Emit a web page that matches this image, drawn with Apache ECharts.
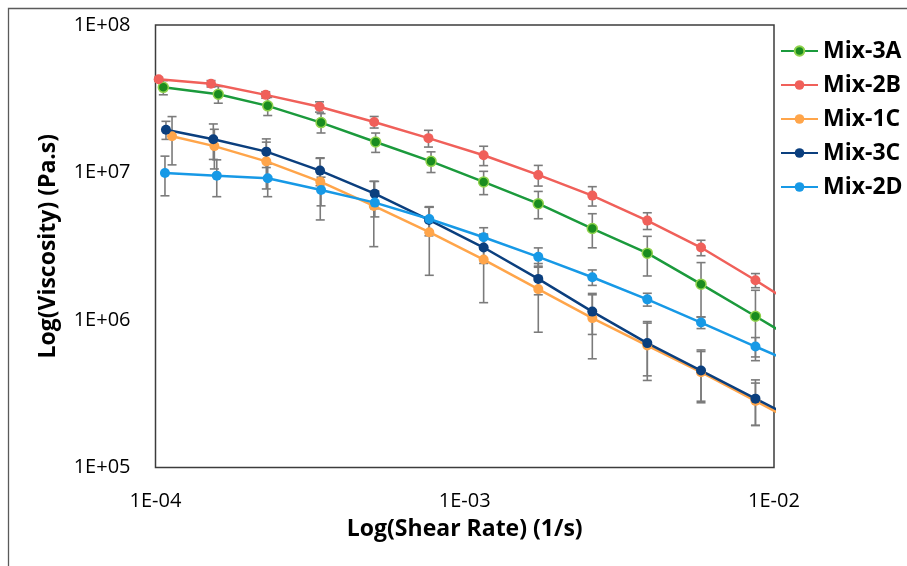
<!DOCTYPE html>
<html>
<head>
<meta charset="utf-8">
<script src="https://cdn.jsdelivr.net/npm/echarts@6/dist/echarts.min.js"></script>
<style>
html,body{margin:0;padding:0;background:#fff;}
#chart{width:907px;height:566px;}
</style>
</head>
<body>
<div id="chart"></div>
<script>
// ---- data ----
const seriesNames = ['Mix-3A', 'Mix-2B', 'Mix-1C', 'Mix-3C', 'Mix-2D'];
const seriesColors = ['#1b9a3c', '#f0605a', '#ffa54a', '#0b3f7e', '#1799e6'];

const x3A = [1.06e-4, 1.596e-4, 2.306e-4, 3.43e-4, 5.15e-4, 7.78e-4, 1.151e-3, 1.729e-3, 2.585e-3, 3.893e-3, 5.808e-3, 8.71e-3, 1.31e-2];
const y3A = [3.78e7, 3.39e7, 2.83e7, 2.18e7, 1.61e7, 1.19e7, 8.63e6, 6.15e6, 4.17e6, 2.84e6, 1.75e6, 1.06e6, 6.37e5];
const e3A = [0.11, 0.13, 0.14, 0.15, 0.15, 0.16, 0.18, 0.21, 0.26, 0.30, 0.40, 0.50];

const x2B = [1.024e-4, 1.512e-4, 2.272e-4, 3.391e-4, 5.095e-4, 7.632e-4, 1.151e-3, 1.729e-3, 2.585e-3, 3.893e-3, 5.808e-3, 8.71e-3, 1.31e-2];
const y2B = [4.29e7, 4.00e7, 3.36e7, 2.79e7, 2.20e7, 1.71e7, 1.31e7, 9.63e6, 6.97e6, 4.72e6, 3.10e6, 1.86e6, 1.08e6];
const e2B = [0.03, 0.05, 0.05, 0.08, 0.09, 0.13, 0.15, 0.16, 0.15, 0.13, 0.12, 0.11];

const x1C = [1.131e-4, 1.55e-4, 2.282e-4, 3.41e-4, 5.08e-4, 7.68e-4, 1.151e-3, 1.729e-3, 2.585e-3, 3.893e-3, 5.808e-3, 8.71e-3, 1.31e-2];
const y1C = [1.76e7, 1.51e7, 1.19e7, 8.67e6, 5.93e6, 3.94e6, 2.57e6, 1.62e6, 1.03e6, 6.71e5, 4.43e5, 2.83e5, 1.80e5];
const e1C = [0.36, 0.30, 0.35, 0.45, 0.47, 0.49, 0.49, 0.49, 0.47, 0.42, 0.38, 0.32];

const x3C = [1.081e-4, 1.538e-4, 2.282e-4, 3.404e-4, 5.114e-4, 7.66e-4, 1.151e-3, 1.729e-3, 2.585e-3, 3.893e-3, 5.808e-3, 8.71e-3, 1.31e-2];
const y3C = [1.95e7, 1.68e7, 1.385e7, 1.03e7, 7.19e6, 4.77e6, 3.10e6, 1.90e6, 1.14e6, 6.97e5, 4.54e5, 2.93e5, 1.90e5];
const e3C = [0.14, 0.27, 0.22, 0.21, 0.21, 0.22, 0.22, 0.22, 0.30, 0.40, 0.38, 0.34];

const x2D = [1.073e-4, 1.578e-4, 2.306e-4, 3.43e-4, 5.12e-4, 7.68e-4, 1.151e-3, 1.729e-3, 2.585e-3, 3.893e-3, 5.808e-3, 8.71e-3, 1.31e-2];
const y2D = [9.93e6, 9.52e6, 9.14e6, 7.62e6, 6.25e6, 4.84e6, 3.64e6, 2.68e6, 1.95e6, 1.38e6, 9.61e5, 6.61e5, 4.59e5];
const e2D = [0.30, 0.28, 0.25, 0.22, 0.20, 0.20, 0.16, 0.15, 0.12, 0.10, 0.09, 0.15];

const xTickLabels = ['1E-04', '1E-03', '1E-02'];
const yTickLabels = ['1E+05', '1E+06', '1E+07', '1E+08'];
const xAxisTitle = 'Log(Shear Rate) (1/s)';
const yAxisTitle = 'Log(Viscosity) (Pa.s)';

// ---- build ----
const xs = [x3A, x2B, x1C, x3C, x2D];
const ys = [y3A, y2B, y1C, y3C, y2D];
const es = [e3A, e2B, e1C, e3C, e2D];

const FONT = '"Open Sans", "Liberation Sans", sans-serif';

const lineSeries = seriesNames.map((name, i) => ({
  name: name,
  type: 'line',
  data: xs[i].map((x, k) => [x, ys[i][k]]),
  clip: true,
  z: 3,
  symbol: 'circle',
  symbolSize: 10,
  lineStyle: { color: seriesColors[i], width: 2.5 },
  itemStyle: i === 0
    ? { color: '#1a8c1f', borderColor: '#8fd24c', borderWidth: 1.5 }
    : { color: seriesColors[i] },
  emphasis: { disabled: true },
  animation: false
}));

const errData = [];
seriesNames.forEach((name, i) => {
  es[i].forEach((r, k) => {
    const v = ys[i][k];
    errData.push([xs[i][k], v * (1 - r), v * (1 + r)]);
  });
});

const errSeries = {
  type: 'custom',
  name: 'err',
  z: 2,
  silent: true,
  animation: false,
  data: errData,
  encode: { x: 0, y: [1, 2] },
  renderItem: function (params, api) {
    const x = api.value(0);
    const lo = api.coord([x, api.value(1)]);
    const hi = api.coord([x, api.value(2)]);
    const w = 4.5;
    const st = { stroke: '#7b7b7b', lineWidth: 1.6 };
    return {
      type: 'group',
      children: [
        { type: 'line', shape: { x1: lo[0], y1: lo[1], x2: hi[0], y2: hi[1] }, style: st },
        { type: 'line', shape: { x1: lo[0] - w, y1: lo[1], x2: lo[0] + w, y2: lo[1] }, style: st },
        { type: 'line', shape: { x1: hi[0] - w, y1: hi[1], x2: hi[0] + w, y2: hi[1] }, style: st }
      ]
    };
  }
};

function expOf(v) { return Math.round(Math.log10(v)); }

const option = {
  backgroundColor: '#ffffff',
  animation: false,
  textStyle: { fontFamily: FONT },
  grid: {
    left: 155.5, top: 25, right: 133, bottom: 98.5,
    show: true, borderColor: '#3c3c3c', borderWidth: 1.5, backgroundColor: 'transparent'
  },
  legend: {
    data: seriesNames,
    orient: 'vertical',
    left: 780,
    top: 39,
    padding: 0,
    itemWidth: 37,
    itemHeight: 12,
    itemGap: 10,
    textStyle: { fontFamily: FONT, fontSize: 23, fontWeight: 'bold', color: '#000', lineHeight: 24 },
    selectedMode: false
  },
  xAxis: {
    type: 'log',
    logBase: 10,
    min: 1e-4,
    max: 1e-2,
    interval: 1,
    axisLine: { show: false },
    axisTick: { show: false },
    splitLine: { show: false },
    minorTick: { show: false },
    axisLabel: {
      margin: 24,
      fontFamily: FONT, fontSize: 20, color: '#000',
      formatter: v => xTickLabels[expOf(v) + 4] || ''
    },
    name: xAxisTitle,
    nameLocation: 'middle',
    nameGap: 50,
    nameTextStyle: { fontFamily: FONT, fontSize: 23, fontWeight: 'bold', color: '#000' }
  },
  yAxis: {
    type: 'log',
    logBase: 10,
    min: 1e5,
    max: 1e8,
    interval: 1,
    axisLine: { show: false },
    axisTick: { show: false },
    splitLine: { show: false },
    minorTick: { show: false },
    axisLabel: {
      margin: 25,
      fontFamily: FONT, fontSize: 20, color: '#000',
      formatter: v => yTickLabels[expOf(v) - 5] || ''
    },
    name: yAxisTitle,
    nameLocation: 'middle',
    nameRotate: 90,
    nameGap: 96,
    nameTextStyle: { fontFamily: FONT, fontSize: 23, fontWeight: 'bold', color: '#000' }
  },
  graphic: [
    { type: 'polyline', silent: true, z: 0,
      shape: { points: [[8.5, 570], [8.5, 8.5], [910, 8.5]] },
      style: { stroke: '#5a5a5a', lineWidth: 1.3, fill: null } }
  ],
  series: [errSeries].concat(lineSeries)
};

const chart = echarts.init(document.getElementById('chart'), null, { renderer: 'canvas' });
chart.setOption(option);
</script>
</body>
</html>
